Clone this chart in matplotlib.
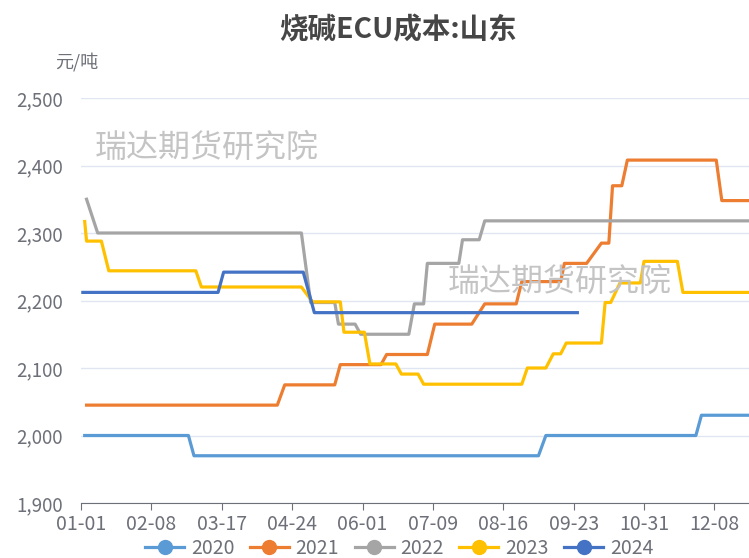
import matplotlib
matplotlib.use('Agg')
import matplotlib.pyplot as plt
from matplotlib.lines import Line2D

plt.rcParams['font.family'] = ['Noto Sans CJK SC', 'DejaVu Sans']

# 横轴: 闰年日序 (0 = 01-01)
tick_days = [0, 38, 76, 114, 152, 190, 228, 266, 304, 342]
tick_labels = ['01-01', '02-08', '03-17', '04-24', '06-01', '07-09', '08-16', '09-23', '10-31', '12-08']

# 各年拐点 (日序, 元/吨)
d2020 = [2, 58, 61, 247, 251, 332, 335, 365]
v2020 = [2000, 2000, 1970, 1970, 2000, 2000, 2030, 2030]

d2021 = [3, 106, 110, 137, 140, 162, 165, 187, 191, 211, 218, 235, 238, 259, 261, 273, 281, 285, 287, 292, 295, 343, 346, 365]
v2021 = [2045, 2045, 2075, 2075, 2105, 2105, 2120, 2120, 2165, 2165, 2195, 2195, 2228, 2228, 2255, 2255, 2285, 2285, 2370, 2370, 2408, 2408, 2348, 2348]

d2022 = [3, 9, 119, 124, 137, 139, 148, 151, 177, 180, 185, 187, 204, 206, 215, 218, 365]
v2022 = [2350, 2300, 2300, 2197, 2197, 2165, 2165, 2150, 2150, 2195, 2195, 2255, 2255, 2290, 2290, 2318, 2318]

d2023 = [2, 3, 11, 15, 62, 65, 119, 125, 140, 142, 153, 156, 170, 173, 182, 185, 238, 241, 251, 255, 259, 262, 281, 283, 286, 291, 302, 304, 322, 325, 365]
v2023 = [2317, 2288, 2288, 2244, 2244, 2220, 2220, 2198, 2198, 2153, 2153, 2106, 2106, 2091, 2091, 2076, 2076, 2100, 2100, 2121, 2121, 2137, 2137, 2197, 2197, 2226, 2226, 2258, 2258, 2212, 2212]

d2024 = [1, 74, 77, 120, 126, 268]
v2024 = [2212, 2212, 2242, 2242, 2182, 2182]

series = [('2020', d2020, v2020, '#5B9BD5'),
          ('2021', d2021, v2021, '#ED7D31'),
          ('2022', d2022, v2022, '#A5A5A5'),
          ('2023', d2023, v2023, '#FFC000'),
          ('2024', d2024, v2024, '#4472C4')]

fig = plt.figure(figsize=(7.49, 5.58), dpi=100)
ax = fig.add_axes([81/749, 55/558, 676/749, 405/558])

for name, d, v, c in series:
    ax.plot(d, v, color=c, lw=2.3, zorder=3, solid_joinstyle='round')

ax.set_xlim(0, 365)
ax.set_ylim(1900, 2500)
ax.set_yticks(range(1900, 2501, 100))
ax.set_yticklabels([f'{y:,}' for y in range(1900, 2501, 100)])
ax.set_xticks(tick_days)
ax.set_xticklabels(tick_labels)
ax.yaxis.grid(True, color='#E0E6F1', lw=1)
ax.set_axisbelow(True)
for s in ['top', 'right', 'left']:
    ax.spines[s].set_visible(False)
ax.spines['bottom'].set_color('#6E7079')
ax.tick_params(axis='y', length=0, pad=13, labelsize=13.5, labelcolor='#6E7079')
ax.tick_params(axis='x', length=5, color='#6E7079', pad=3, labelsize=14, labelcolor='#6E7079')

# 水印
fig.text(95/749, 1 - 148/558, '瑞达期货研究院', fontsize=23, color='#C4C4C4', va='center', ha='left', zorder=1)
fig.text(448/749, 1 - 282/558, '瑞达期货研究院', fontsize=23, color='#C4C4C4', va='center', ha='left', zorder=1)

fig.text(0.532, 1 - 30/558, '烧碱ECU成本:山东', ha='center', va='center', fontsize=20.5, fontweight='bold', color='#464646')
fig.text(77/749, 1 - 62/558, '元/吨', ha='center', va='center', fontsize=13, color='#6E7079')

handles = [Line2D([], [], color=c, lw=2.3, marker='o', markersize=10) for _, _, _, c in series]
fig.legend(handles, [s[0] for s in series], loc='center', bbox_to_anchor=(0.533, 1 - 548/558), ncol=5,
           frameon=False, fontsize=14, handlelength=2.0, handletextpad=0.35, columnspacing=0.8, labelcolor='#6E7079')

fig.savefig('out.png', dpi=100)
